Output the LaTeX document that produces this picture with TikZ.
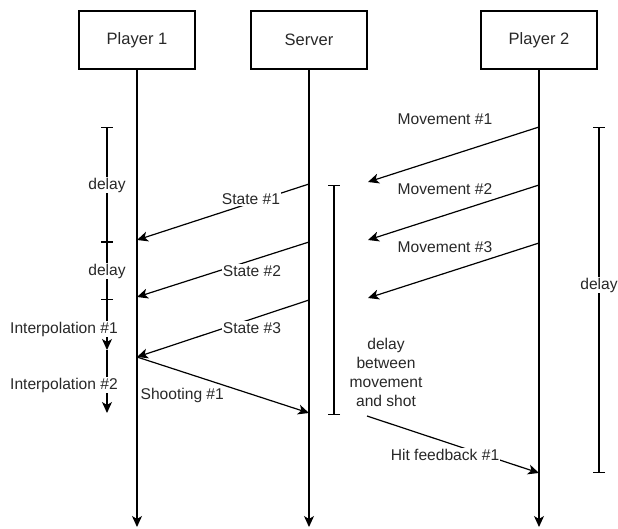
\documentclass[tikz,border=0pt]{standalone}
\usepackage{fontspec}
\setmainfont{Liberation Sans}
\usetikzlibrary{arrows.meta}
\definecolor{txt}{RGB}{40,40,40}
\begin{document}
\begin{tikzpicture}[x=1pt,y=-1pt,
  font=\fontsize{15.6}{19}\selectfont,
  line width=1.2pt,
  actor/.style={draw, minimum width=116pt, minimum height=58pt, inner sep=0pt, fill=white, text=txt, font=\fontsize{16.5}{19}\selectfont},
  msg/.style={-{Stealth[length=11pt,width=10pt,inset=3pt]}},
  lbl/.style={fill=white, inner sep=1pt, text=txt},
  span/.style={{Bar[width=12pt]}-{Bar[width=12pt]}},
]
\useasboundingbox (0,0) rectangle (618,529);

% actors
\node[actor] (p1)  at (137,40) {Player 1};
\node[actor] (srv) at (309,40) {Server};
\node[actor] (p2)  at (539,40) {Player 2};

\coordinate (p1end)  at (137,527);
\coordinate (srvend) at (309,527);
\coordinate (p2end)  at (539,527);
\draw[msg] (p1.south)  -- (p1end);
\draw[msg] (srv.south) -- (srvend);
\draw[msg] (p2.south)  -- (p2end);

% server -> player 1 states
\coordinate (s1a) at (309,184); \coordinate (s1b) at (137,240);
\coordinate (s2a) at (309,242); \coordinate (s2b) at (137,297);
\coordinate (s3a) at (309,300); \coordinate (s3b) at (137,357);
\coordinate (sh)  at (309,413);
\draw[msg] (s1a) -- (s1b);
\draw[msg] (s2a) -- (s2b);
\draw[msg] (s3a) -- (s3b);
\draw[msg] (s3b) -- (sh);

% player 2 movements
\coordinate (m1a) at (539,127); \coordinate (m1b) at (368,182);
\coordinate (m2a) at (539,185); \coordinate (m2b) at (368,240);
\coordinate (m3a) at (539,243); \coordinate (m3b) at (368,298);
\coordinate (hfa) at (367,416); \coordinate (hfb) at (539,473);
\draw[msg] (m1a) -- (m1b);
\draw[msg] (m2a) -- (m2b);
\draw[msg] (m3a) -- (m3b);
\draw[msg] (hfa) -- (hfb);

% left brackets
\coordinate (d0) at (107,127);
\coordinate (d1) at (107,242);
\coordinate (d2) at (107,300);
\coordinate (d3) at (107,350);
\coordinate (d4) at (107,413);
\draw[span] (d0) -- (d1);
\draw[span] (d1) -- (d2);
\draw[msg] (d2) -- (d3);
\draw[msg] (d3) -- (d4);

% middle bracket
\coordinate (mb0) at (334,185); \coordinate (mb1) at (334,415);
\draw[span] (mb0) -- (mb1);

% right bracket
\coordinate (rb0) at (599,127); \coordinate (rb1) at (599,473);
\draw[span] (rb0) -- (rb1);

% labels
\node[lbl] (ls1) at (251,199) {State \#1};
\node[lbl] (ls2) at (252,271) {State \#2};
\node[lbl] (ls3) at (252,328) {State \#3};
\node[lbl, fill=none, anchor=west] (lsh) at (139,395) {Shooting \#1};
\node[lbl] (lm1) at (445,119) {Movement \#1};
\node[lbl] (lm2) at (445,189) {Movement \#2};
\node[lbl] (lm3) at (445,247) {Movement \#3};
\node[lbl] (lhf) at (445,455) {Hit feedback \#1};
\node[lbl] (ld1) at (107,185) {delay};
\node[lbl] (ld2) at (107,271) {delay};
\node[lbl] (li1) at (64,329) {Interpolation \#1};
\node[lbl] (li2) at (64,385) {Interpolation \#2};
\node[lbl, align=center] (lmb) at (386,372) {delay\\between\\movement\\and shot};
\node[lbl] (lrb) at (599,285) {delay};
\end{tikzpicture}
\end{document}
